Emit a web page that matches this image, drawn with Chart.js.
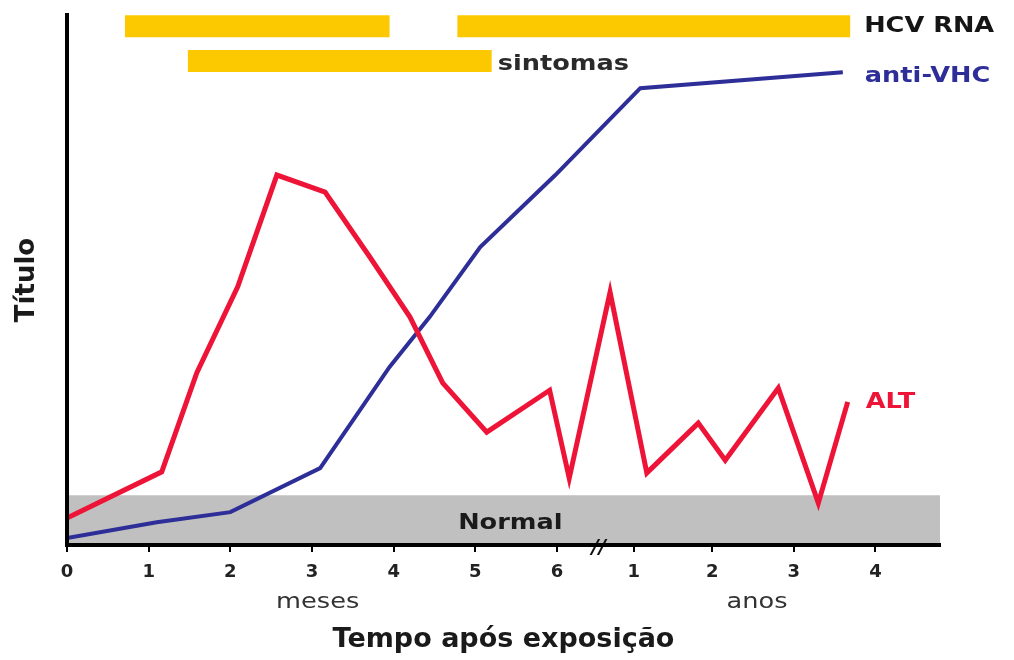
<!DOCTYPE html>
<html>
<head>
<meta charset="utf-8">
<script src="https://cdn.jsdelivr.net/npm/chart.js@4.4.1/dist/chart.umd.min.js"></script>
<style>
html,body{margin:0;padding:0;background:#fff;}
#wrap{width:1014px;height:660px;position:relative;}
</style>
</head>
<body>
<div id="wrap"><canvas id="c" width="1014" height="660"></canvas></div>
<script>
// ---- data (x: months 0..6, then years after the break; y: relative titre 0..100) ----
const tickPositions = [0, 1, 2, 3, 4, 5, 6, 6.94, 7.9, 8.9, 9.9];
const tickLabels    = ['0','1','2','3','4','5','6','1','2','3','4'];
const xMax = 10.69;
const breakAt = 6.5;

const altX = [0, 1.16, 1.59, 2.09, 2.57, 3.16, 3.71, 4.20, 4.60, 5.14, 5.91, 6.15, 6.65, 7.10, 7.73, 8.06, 8.71, 9.20, 9.56];
const altY = [5.1, 13.8, 32.5, 48.7, 69.8, 66.6, 54.3, 43.0, 30.6, 21.3, 29.2, 12.6, 47.7, 13.6, 23.0, 16.0, 29.6, 7.9, 27.0];

const antiX = [0, 1.10, 2.0, 3.10, 3.95, 4.44, 5.06, 5.98, 7.02, 9.50];
const antiY = [1.3, 4.3, 6.2, 14.5, 33.6, 43.0, 56.2, 69.8, 86.2, 89.2];

const hcvRnaSpans = [[0.71, 3.95], [4.78, 9.59]];
const hcvRnaLevel = 97.9;
const symptomSpan = [1.48, 5.2];
const symptomLevel = 91.3;
const normalLimit = 9.4;

const labelText = {
  hcv: 'HCV RNA', symptoms: 'sintomas', anti: 'anti-VHC', alt: 'ALT',
  normal: 'Normal', months: 'meses', years: 'anos',
  xTitle: 'Tempo após exposição', yTitle: 'Título'
};

// ---- colours ----
const RED = '#ee1438';
const BLUE = '#2e2e98';
const YELLOW = '#fcc800';
const GREY = '#c0c0c0';

const toPts = (xs, ys) => xs.map((v, i) => ({x: v, y: ys[i]}));

const datasets = [];
datasets.push({
  label: 'anti-VHC', data: toPts(antiX, antiY), borderColor: BLUE, borderWidth: 4,
  pointRadius: 0, fill: false, tension: 0, borderJoinStyle: 'miter', order: 1
});
datasets.push({
  label: 'ALT', data: toPts(altX, altY), borderColor: RED, borderWidth: 5,
  pointRadius: 0, fill: false, tension: 0, borderJoinStyle: 'miter', order: 0
});
hcvRnaSpans.forEach((s, i) => datasets.push({
  label: 'HCV RNA ' + i, data: [{x: s[0], y: hcvRnaLevel}, {x: s[1], y: hcvRnaLevel}],
  borderColor: YELLOW, borderWidth: 22, borderCapStyle: 'butt', pointRadius: 0, fill: false, order: 2
}));
datasets.push({
  label: 'sintomas', data: [{x: symptomSpan[0], y: symptomLevel}, {x: symptomSpan[1], y: symptomLevel}],
  borderColor: YELLOW, borderWidth: 22, borderCapStyle: 'butt', pointRadius: 0, fill: false, order: 2
});
datasets.push({
  label: 'Normal', data: [{x: 0, y: normalLimit}, {x: xMax, y: normalLimit}],
  borderWidth: 0, borderColor: GREY, backgroundColor: GREY, pointRadius: 0, fill: 'start', order: 3
});

const annotations = {
  id: 'annotations',
  afterDatasetsDraw(chart) {
    const {ctx, scales: {x, y}, chartArea} = chart;
    const stretch = 1.22;
    function txt(s, px, py, font, color, align) {
      ctx.save();
      ctx.font = font; ctx.fillStyle = color;
      ctx.textBaseline = 'middle'; ctx.textAlign = align || 'left';
      ctx.translate(px, py); ctx.scale(stretch, 1);
      ctx.fillText(s, 0, 0);
      ctx.restore();
    }
    const B = 'bold 21px "DejaVu Sans"';
    txt(labelText.hcv, x.getPixelForValue(hcvRnaSpans[1][1]) + 14, y.getPixelForValue(hcvRnaLevel), B, '#151515');
    txt(labelText.symptoms, x.getPixelForValue(symptomSpan[1]) + 6, y.getPixelForValue(symptomLevel) + 3, B, '#2a2a2a');
    txt(labelText.anti, x.getPixelForValue(antiX[antiX.length - 1]) + 22, y.getPixelForValue(antiY[antiY.length - 1]) + 4, B, BLUE);
    txt(labelText.alt, x.getPixelForValue(altX[altX.length - 1]) + 18, y.getPixelForValue(altY[altY.length - 1]) + 1, B, RED);
    txt(labelText.normal, x.getPixelForValue(4.79), (y.getPixelForValue(normalLimit) + chartArea.bottom) / 2 + 3, B, '#1a1a1a');
    const N = '21px "DejaVu Sans"';
    txt(labelText.months, x.getPixelForValue(3.07), chartArea.bottom + 58, N, '#333', 'center');
    txt(labelText.years, x.getPixelForValue(8.45), chartArea.bottom + 58, N, '#333', 'center');
    // axis break mark
    ctx.save();
    ctx.font = 'italic bold 20px "DejaVu Sans"';
    ctx.fillStyle = '#111'; ctx.textAlign = 'center'; ctx.textBaseline = 'middle';
    ctx.fillText('//', x.getPixelForValue(breakAt) + 1, chartArea.bottom + 3);
    ctx.restore();
  }
};

new Chart(document.getElementById('c'), {
  type: 'line',
  data: {datasets},
  options: {
    responsive: false,
    animation: false,
    layout: {padding: {top: 15, right: 74, left: 0, bottom: 0}},
    plugins: {legend: {display: false}, tooltip: {enabled: false}},
    scales: {
      x: {
        type: 'linear', min: 0, max: xMax,
        afterBuildTicks: s => { s.ticks = tickPositions.map(v => ({value: v})); },
        afterFit: s => { s.height = 115; },
        ticks: {
          autoSkip: false, maxRotation: 0, padding: 10, color: '#222',
          font: {family: '"DejaVu Sans"', size: 18, weight: 'bold'},
          callback: (v, i) => tickLabels[i]
        },
        grid: {drawOnChartArea: false, drawTicks: true, tickLength: 7, color: '#000', lineWidth: 2},
        border: {display: true, color: '#000', width: 4, z: 1},
        title: {
          display: true, text: labelText.xTitle, color: '#1a1a1a',
          font: {family: '"DejaVu Sans"', size: 27, weight: 'bold'},
          padding: {top: 0, bottom: 4}
        }
      },
      y: {
        type: 'linear', min: 0, max: 100,
        afterFit: s => { s.width = 67; },
        ticks: {display: false},
        grid: {display: false, drawTicks: false},
        border: {display: true, color: '#000', width: 4, z: 1},
        title: {
          display: true, text: labelText.yTitle, color: '#1a1a1a',
          font: {family: '"DejaVu Sans"', size: 26, weight: 'bold'},
          padding: {top: 12, bottom: 0}
        }
      }
    }
  },
  plugins: [annotations]
});
</script>
</body>
</html>
